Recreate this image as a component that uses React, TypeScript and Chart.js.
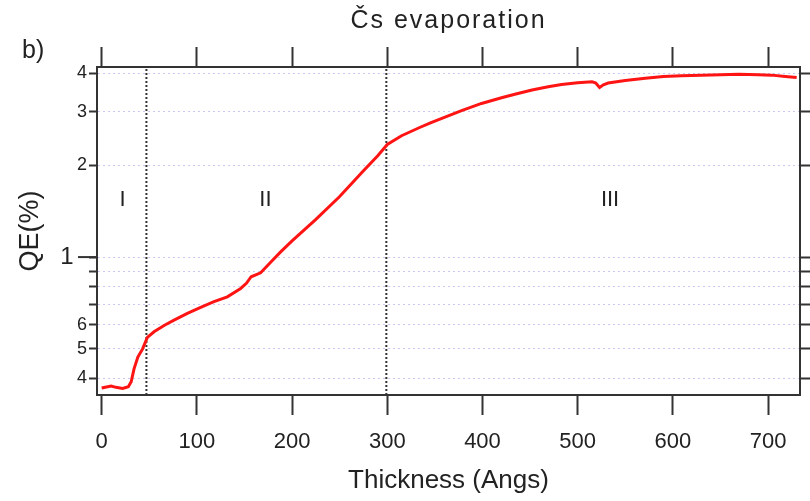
import React, { useEffect, useRef } from 'react';
import { Chart, registerables } from 'chart.js';

Chart.register(...registerables);

// ---- data ----
const thickness = [
  0, 5, 10, 15, 22, 28, 31, 34, 38, 43, 48, 55, 66, 76, 90, 104, 118, 132, 146, 152, 157, 167, 178, 188,
  200, 225, 250, 275, 290, 300, 315, 334, 346, 378, 399, 420, 434, 452, 469, 483, 500, 515, 519, 523, 527,
  532, 550, 571, 590, 609, 630, 650, 669, 690, 704, 718, 730,
];
const qePercent = [
  0.372, 0.375, 0.378, 0.374, 0.371, 0.376, 0.39, 0.43, 0.47, 0.5, 0.545, 0.569, 0.598, 0.621, 0.654, 0.684,
  0.714, 0.741, 0.789, 0.82, 0.862, 0.888, 0.965, 1.04, 1.13, 1.33, 1.58, 1.92, 2.15, 2.34, 2.5, 2.66, 2.76,
  3.02, 3.19, 3.33, 3.42, 3.53, 3.62, 3.68, 3.73, 3.76, 3.72, 3.6, 3.67, 3.72, 3.79, 3.86, 3.91, 3.93, 3.95,
  3.96, 3.98, 3.96, 3.95, 3.91, 3.88,
];
const xTickValues = [0, 100, 200, 300, 400, 500, 600, 700];
const yTickValues = [0.4, 0.5, 0.6, 0.7, 0.8, 0.9, 1, 2, 3, 4];
const yTickLabels = ['4', '5', '6', '', '', '', '1  ', '2', '3', '4'];
const boundaries = [47, 299];
const regionLabels = ['I', 'II', 'III'];
const regionX = [22, 172, 534];
const regionY = 1.54;
const xMin = -4.9;
const xMax = 733.5;
const yMin = 0.353;
const yMax = 4.2;
const titleText = 'Čs evaporation';
const panelLabel = 'b)';
const xTitle = 'Thickness (Angs)';
const yTitle = 'QE(%)';

const FONT = '"Liberation Sans", Arial, sans-serif';
const INK = '#222';

const textPlugin = {
  id: 'texts',
  beforeDraw(chart: any) {
    const { ctx } = chart;
    ctx.save();
    ctx.fillStyle = '#ffffff';
    ctx.fillRect(0, 0, chart.width, chart.height);
    ctx.restore();
  },
  afterDraw(chart: any) {
    const { ctx, chartArea } = chart;
    const xs = chart.scales.x;
    const ys = chart.scales.y;
    ctx.save();
    ctx.fillStyle = INK;
    ctx.textBaseline = 'middle';
    // title
    ctx.font = `25px ${FONT}`;
    ctx.textAlign = 'center';
    (ctx as any).letterSpacing = '2px';
    ctx.fillText(titleText, (chartArea.left + chartArea.right) / 2, 21);
    (ctx as any).letterSpacing = '0px';
    // panel label
    ctx.font = `25px ${FONT}`;
    ctx.textAlign = 'left';
    ctx.fillText(panelLabel, 22, 51);
    // region labels
    ctx.font = `22px ${FONT}`;
    ctx.textAlign = 'center';
    regionLabels.forEach((t, i) => {
      ctx.fillText(t, xs.getPixelForValue(regionX[i]), ys.getPixelForValue(regionY));
    });
    // long major tick at 1
    const y1 = ys.getPixelForValue(1);
    ctx.strokeStyle = '#333';
    ctx.lineWidth = 2;
    ctx.beginPath();
    ctx.moveTo(chartArea.left - 19, y1);
    ctx.lineTo(chartArea.left, y1);
    ctx.stroke();
    ctx.restore();
  },
};

export default function App() {
  const ref = useRef<HTMLCanvasElement | null>(null);
  useEffect(() => {
    if (!ref.current) return;
    Chart.defaults.font.family = FONT;
    const setX = (s: any) => {
      s.ticks = xTickValues.map((v) => ({ value: v }));
    };
    const setY = (s: any) => {
      s.ticks = yTickValues.map((v) => ({ value: v }));
    };
    const chart = new Chart(ref.current, {
      type: 'line',
      data: {
        datasets: [
          {
            label: 'QE',
            data: thickness.map((x, i) => ({ x, y: qePercent[i] })),
            borderColor: '#ff1414',
            borderWidth: 3,
            pointRadius: 0,
            tension: 0,
            xAxisID: 'x',
            yAxisID: 'y',
          },
          ...boundaries.map((b) => ({
            label: 'boundary',
            data: [
              { x: b, y: yMin },
              { x: b, y: yMax },
            ],
            borderColor: '#333',
            borderWidth: 2,
            borderDash: [2, 2],
            pointRadius: 0,
            xAxisID: 'x',
            yAxisID: 'y',
          })),
        ],
      },
      options: {
        animation: false,
        responsive: false,
        maintainAspectRatio: false,
        layout: { padding: 0 },
        plugins: { legend: { display: false }, tooltip: { enabled: false }, title: { display: false } },
        scales: {
          x: {
            type: 'linear',
            position: 'bottom',
            min: xMin,
            max: xMax,
            afterBuildTicks: setX,
            afterFit: (s: any) => {
              s.height = 106;
            },
            ticks: { autoSkip: false, maxRotation: 0, font: { size: 22 }, color: INK, padding: 14 },
            grid: { drawOnChartArea: false, drawTicks: true, tickLength: 20, tickColor: '#333', tickWidth: 2 },
            border: { display: true, color: '#333', width: 2 },
            title: { display: true, text: xTitle, font: { size: 26 }, color: INK, padding: { top: 0, bottom: 5 } },
          },
          x2: {
            type: 'linear',
            position: 'top',
            min: xMin,
            max: xMax,
            afterBuildTicks: setX,
            afterFit: (s: any) => {
              s.height = 67;
            },
            ticks: { display: false },
            grid: { drawOnChartArea: false, drawTicks: true, tickLength: 20, tickColor: '#333', tickWidth: 2 },
            border: { display: true, color: '#333', width: 2 },
          },
          y: {
            type: 'logarithmic',
            position: 'left',
            min: yMin,
            max: yMax,
            afterBuildTicks: setY,
            afterFit: (s: any) => {
              s.width = 97;
            },
            ticks: {
              autoSkip: false,
              color: INK,
              padding: 2,
              callback: (_v: any, i: number) => yTickLabels[i],
              font: (c: any) => ({ size: c.tick && c.tick.value === 1 ? 24 : 18 }),
            },
            grid: {
              color: '#c8c8f0',
              lineWidth: 1,
              drawTicks: true,
              tickLength: 8,
              tickColor: '#333',
              tickWidth: 2,
              tickBorderDash: [],
            },
            border: { display: true, color: '#333', width: 2, dash: [2, 3] },
            title: { display: true, text: yTitle, font: { size: 27 }, color: INK, padding: { top: 14, bottom: 0 } },
          },
          y2: {
            type: 'logarithmic',
            position: 'right',
            min: yMin,
            max: yMax,
            afterBuildTicks: setY,
            afterFit: (s: any) => {
              s.width = 10;
            },
            ticks: { display: false },
            grid: { drawOnChartArea: false, drawTicks: true, tickLength: 10, tickColor: '#333', tickWidth: 2 },
            border: { display: true, color: '#333', width: 2 },
          },
        },
      } as any,
      plugins: [textPlugin],
    });
    return () => chart.destroy();
  }, []);
  return (
    <div style={{ position: 'fixed', left: 0, top: 0, width: 810, height: 501, background: '#fff' }}>
      <canvas ref={ref} width={810} height={501} style={{ display: 'block', width: 810, height: 501 }} />
    </div>
  );
}
